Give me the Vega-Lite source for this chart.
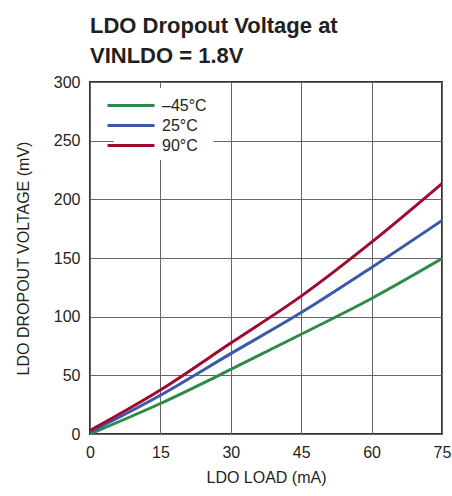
{
  "$schema": "https://vega.github.io/schema/vega-lite/v6.json",
  "width": 352,
  "height": 352,
  "autosize": "none",
  "padding": {"left": 90, "top": 82, "right": 10, "bottom": 62},
  "background": "white",
  "title": {
    "text": ["LDO Dropout Voltage at", "VINLDO = 1.8V"],
    "anchor": "start",
    "frame": "group",
    "font": "Liberation Sans",
    "fontSize": 22,
    "fontWeight": "bold",
    "color": "#231f20",
    "lineHeight": 30,
    "offset": 6
  },
  "data": {
    "values": [
      {"load": 0, "mv": 0, "temp": "–45°C"},
      {"load": 15, "mv": 26, "temp": "–45°C"},
      {"load": 30, "mv": 55, "temp": "–45°C"},
      {"load": 45, "mv": 85, "temp": "–45°C"},
      {"load": 60, "mv": 115.5, "temp": "–45°C"},
      {"load": 75, "mv": 149.5, "temp": "–45°C"},
      {"load": 0, "mv": 1.5, "temp": "25°C"},
      {"load": 15, "mv": 33, "temp": "25°C"},
      {"load": 30, "mv": 68.5, "temp": "25°C"},
      {"load": 45, "mv": 103.5, "temp": "25°C"},
      {"load": 60, "mv": 142, "temp": "25°C"},
      {"load": 75, "mv": 182, "temp": "25°C"},
      {"load": 0, "mv": 3, "temp": "90°C"},
      {"load": 15, "mv": 37.5, "temp": "90°C"},
      {"load": 30, "mv": 77.5, "temp": "90°C"},
      {"load": 45, "mv": 117.5, "temp": "90°C"},
      {"load": 60, "mv": 163.5, "temp": "90°C"},
      {"load": 75, "mv": 213.5, "temp": "90°C"}
    ]
  },
  "mark": {"type": "line", "strokeWidth": 3, "clip": true, "interpolate": "monotone"},
  "encoding": {
    "x": {
      "field": "load",
      "type": "quantitative",
      "scale": {"domain": [0, 75], "nice": false, "zero": false},
      "axis": {"values": [0, 15, 30, 45, 60, 75], "title": "LDO LOAD (mA)", "labelPadding": 10, "titlePadding": 9, "labelFlush": false}
    },
    "y": {
      "field": "mv",
      "type": "quantitative",
      "scale": {"domain": [0, 300], "nice": false},
      "axis": {"values": [0, 50, 100, 150, 200, 250, 300], "title": "LDO DROPOUT VOLTAGE (mV)", "labelPadding": 10, "titlePadding": 22, "labelFlush": false}
    },
    "color": {
      "field": "temp",
      "type": "nominal",
      "scale": {"domain": ["–45°C", "25°C", "90°C"], "range": ["#2f8a4a", "#3a5aa8", "#9e0b2f"]},
      "legend": {
        "orient": "none",
        "legendX": 23.5,
        "legendY": 6,
        "title": null,
        "fillColor": "white",
        "padding": 6,
        "symbolType": "M-2.35,0H2.35",
        "symbolSize": 400,
        "symbolStrokeWidth": 3,
        "labelFont": "Liberation Sans",
        "labelFontSize": 16,
        "labelColor": "#231f20",
        "labelOffset": 19.5,
        "rowPadding": 0
      }
    }
  },
  "config": {
    "view": {"stroke": "#333333", "strokeWidth": 2},
    "axis": {
      "domain": false,
      "ticks": false,
      "grid": true,
      "gridColor": "#666666",
      "gridWidth": 1,
      "gridOpacity": 1,
      "labelFont": "Liberation Sans",
      "labelFontSize": 16,
      "labelColor": "#231f20",
      "titleFont": "Liberation Sans",
      "titleFontSize": 16,
      "titleFontWeight": "normal",
      "titleColor": "#231f20"
    }
  }
}
